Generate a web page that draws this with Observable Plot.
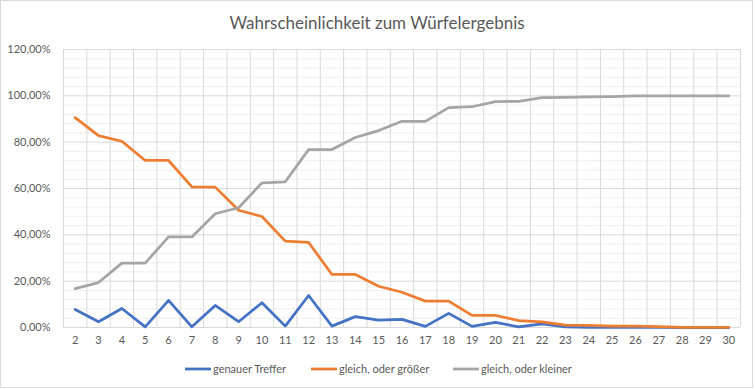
<!DOCTYPE html>
<html>
<head>
<meta charset="utf-8">
<script src="https://cdn.jsdelivr.net/npm/d3@7"></script>
<script src="https://cdn.jsdelivr.net/npm/@observablehq/plot@0.6"></script>
<style>
  html, body { margin: 0; padding: 0; background: #fff; }
  svg { display: block; }
</style>
</head>
<body>
<div id="chart"></div>
<script>
const title = "Wahrscheinlichkeit zum Würfelergebnis";
const categories = [2,3,4,5,6,7,8,9,10,11,12,13,14,15,16,17,18,19,20,21,22,23,24,25,26,27,28,29,30];
const seriesNames = ["genauer Treffer", "gleich, oder größer", "gleich, oder kleiner"];
const genauerTreffer = [7.8,2.5,8.2,0.3,11.7,0.3,9.5,2.5,10.7,0.6,13.8,0.6,4.7,3.2,3.5,0.5,6.1,0.5,2.2,0.3,1.6,0.3,0.1,0.1,0.1,0.0,0.0,0.0,0.0];
const gleichOderGroesser = [90.6,82.8,80.4,72.1,72.1,60.7,60.6,50.6,47.9,37.3,36.7,22.9,22.9,17.8,15.2,11.4,11.4,5.2,5.2,3.0,2.4,1.0,0.9,0.6,0.6,0.4,0.1,0.1,0.1];
const gleichOderKleiner = [16.8,19.4,27.8,27.8,39.1,39.1,49.1,51.7,62.4,62.9,76.8,76.8,82.0,85.0,89.0,89.0,94.9,95.3,97.5,97.6,99.2,99.3,99.6,99.7,100,100,100,100,100];
const yTicks = [0, 20, 40, 60, 80, 100, 120];
const colors = ["#4472C4", "#ED7D31", "#A5A5A5"];

const seriesValues = [genauerTreffer, gleichOderGroesser, gleichOderKleiner];
const rows = seriesNames.flatMap((name, si) =>
  categories.map((c, i) => ({series: name, x: c, y: seriesValues[si][i]})));

const xBounds = d3.range(categories[0] - 0.5, categories[categories.length - 1] + 1, 1);
const yMinor = d3.range(0, 120.001, 4).filter(v => v % 20 !== 0);

const fmt = v => v.toFixed(2).replace(".", ",") + "%";

const plot = Plot.plot({
  width: 755,
  height: 389,
  marginLeft: 63,
  marginRight: 15,
  marginTop: 49,
  marginBottom: 62,
  style: {fontFamily: "Lato, 'Open Sans', sans-serif", fontSize: "11px", color: "#595959", background: "#fff"},
  x: {type: "linear", domain: [categories[0] - 0.5, categories[categories.length - 1] + 0.5]},
  y: {domain: [0, 120]},
  color: {domain: seriesNames, range: colors},
  marks: [
    Plot.ruleY(yMinor, {stroke: "#efefef", strokeWidth: 1}),
    Plot.ruleY(yTicks, {stroke: "#d9d9d9", strokeWidth: 1}),
    Plot.ruleX(xBounds, {stroke: "#d9d9d9", strokeWidth: 1}),
    Plot.axisX({ticks: categories, tickFormat: d => String(d), tickSize: 0, tickPadding: 9, label: null, fill: "#595959", fontSize: 11}),
    Plot.axisY({ticks: yTicks, tickFormat: fmt, tickSize: 0, tickPadding: 13, label: null, fill: "#595959", fontSize: 11}),
    ...seriesNames.map(name =>
      Plot.line(rows.filter(r => r.series === name), {
        x: "x", y: "y", stroke: "series", strokeWidth: 2.75,
        strokeLinejoin: "round", strokeLinecap: "round"
      }))
  ]
});

const svg = d3.select(plot);
svg.insert("rect", ":first-child")
  .attr("x", 0.5).attr("y", 0.5).attr("width", 752).attr("height", 387)
  .attr("fill", "#fff").attr("stroke", "#d9d9d9");

svg.append("text")
  .attr("x", 377).attr("y", 29)
  .attr("text-anchor", "middle")
  .attr("fill", "#595959")
  .style("font-size", "17px")
  .style("font-family", "Lato, 'Open Sans', sans-serif")
  .text(title);

const legendX = [185, 311, 453];
const leg = svg.append("g")
  .attr("text-anchor", "start")
  .style("font-family", "Lato, 'Open Sans', sans-serif").style("font-size", "11px");
seriesNames.forEach((name, i) => {
  leg.append("line")
    .attr("x1", legendX[i]).attr("x2", legendX[i] + 26)
    .attr("y1", 369).attr("y2", 369)
    .attr("stroke", colors[i]).attr("stroke-width", 2.75);
  leg.append("text")
    .attr("x", legendX[i] + 28).attr("y", 373)
    .attr("text-anchor", "start")
    .attr("fill", "#595959")
    .text(name);
});

document.getElementById("chart").appendChild(plot);
</script>
</body>
</html>
